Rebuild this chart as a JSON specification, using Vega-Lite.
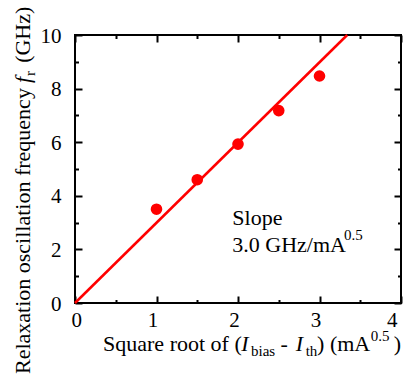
{
  "$schema": "https://vega.github.io/schema/vega-lite/v6.json",
  "width": 326,
  "height": 268,
  "autosize": {"type": "none"},
  "padding": {"left": 75, "top": 35, "right": 3, "bottom": 71},
  "background": "white",
  "config": {
    "view": {"stroke": "black", "strokeWidth": 2},
    "font": "Liberation Serif",
    "axis": {"domain": false, "grid": false, "tickColor": "black", "tickWidth": 2, "labelFont": "Liberation Serif", "labelFontSize": 21, "labelColor": "black", "title": null},
    "text": {"font": "Liberation Serif", "fontSize": 22, "color": "black", "align": "left", "baseline": "alphabetic"}
  },
  "data": {"values": [{}]},
  "resolve": {"axis": {"x": "independent", "y": "independent"}},
  "layer": [
    {
      "data": {"values": [{"x": 0, "y": 0}, {"x": 3.34, "y": 10}]},
      "mark": {"type": "line", "color": "#ff0000", "strokeWidth": 2.5},
      "encoding": {
        "x": {"field": "x", "type": "quantitative", "scale": {"domain": [0, 4], "nice": false},
              "axis": {"orient": "bottom", "values": [0, 1, 2, 3, 4], "tickSize": -7, "labelPadding": 13, "labelOffset": -4, "labelFont": "Liberation Serif", "title": null}},
        "y": {"field": "y", "type": "quantitative", "scale": {"domain": [0, 10], "nice": false},
              "axis": {"orient": "left", "values": [0, 2, 4, 6, 8, 10], "tickSize": -7, "labelPadding": 21, "labelOffset": 1, "labelFont": "Liberation Serif", "title": null}}
      }
    },
    {
      "data": {"values": [
        {"x": 1.0, "y": 3.5},
        {"x": 1.5, "y": 4.6},
        {"x": 2.0, "y": 5.93},
        {"x": 2.5, "y": 7.18},
        {"x": 3.0, "y": 8.47}
      ]},
      "mark": {"type": "point", "shape": "circle", "filled": true, "color": "#ff0000", "opacity": 1, "size": 135},
      "encoding": {
        "x": {"field": "x", "type": "quantitative", "scale": {"domain": [0, 4], "nice": false},
              "axis": {"orient": "bottom", "values": [0.5, 1.5, 2.5, 3.5], "tickSize": -3.5, "labels": false, "title": null}},
        "y": {"field": "y", "type": "quantitative", "scale": {"domain": [0, 10], "nice": false},
              "axis": {"orient": "left", "values": [1, 3, 5, 7, 9], "tickSize": -3.5, "labels": false, "title": null}}
      }
    },
    {
      "mark": {"type": "text", "text": "Slope", "font": "Liberation Serif"},
      "encoding": {
        "x": {"datum": 1.93, "type": "quantitative", "scale": {"domain": [0, 4], "nice": false},
              "axis": {"orient": "top", "values": [0, 1, 2, 3, 4], "tickSize": -7, "labels": false, "title": null}},
        "y": {"datum": 2.91, "type": "quantitative", "scale": {"domain": [0, 10], "nice": false},
              "axis": {"orient": "right", "values": [0, 2, 4, 6, 8, 10], "tickSize": -7, "labels": false, "title": null}}
      }
    },
    {
      "mark": {"type": "text", "text": "3.0 GHz/mA", "font": "Liberation Serif"},
      "encoding": {
        "x": {"datum": 1.93, "type": "quantitative", "scale": {"domain": [0, 4], "nice": false},
              "axis": {"orient": "top", "values": [0.5, 1.5, 2.5, 3.5], "tickSize": -3.5, "labels": false, "title": null}},
        "y": {"datum": 1.9, "type": "quantitative", "scale": {"domain": [0, 10], "nice": false},
              "axis": {"orient": "right", "values": [1, 3, 5, 7, 9], "tickSize": -3.5, "labels": false, "title": null}}
      }
    },
    {
      "mark": {"type": "text", "text": "0.5", "fontSize": 15, "font": "Liberation Serif"},
      "encoding": {
        "x": {"datum": 3.3, "type": "quantitative", "scale": {"domain": [0, 4], "nice": false}, "axis": null},
        "y": {"datum": 2.35, "type": "quantitative", "scale": {"domain": [0, 10], "nice": false}, "axis": null}
      }
    },
    {
      "mark": {"type": "text", "text": "Square root of (", "font": "Liberation Serif"},
      "encoding": {
        "x": {"datum": 0.344, "type": "quantitative", "scale": {"domain": [0, 4], "nice": false}, "axis": null},
        "y": {"datum": -1.79, "type": "quantitative", "scale": {"domain": [0, 10], "nice": false}, "axis": null}
      }
    },
    {
      "mark": {"type": "text", "text": "I", "fontStyle": "italic", "font": "Liberation Serif"},
      "encoding": {
        "x": {"datum": 2.04, "type": "quantitative", "scale": {"domain": [0, 4], "nice": false}, "axis": null},
        "y": {"datum": -1.79, "type": "quantitative", "scale": {"domain": [0, 10], "nice": false}, "axis": null}
      }
    },
    {
      "mark": {"type": "text", "text": "bias", "fontSize": 15, "dy": 5, "font": "Liberation Serif"},
      "encoding": {
        "x": {"datum": 2.16, "type": "quantitative", "scale": {"domain": [0, 4], "nice": false}, "axis": null},
        "y": {"datum": -1.79, "type": "quantitative", "scale": {"domain": [0, 10], "nice": false}, "axis": null}
      }
    },
    {
      "mark": {"type": "text", "text": "-", "font": "Liberation Serif"},
      "encoding": {
        "x": {"datum": 2.52, "type": "quantitative", "scale": {"domain": [0, 4], "nice": false}, "axis": null},
        "y": {"datum": -1.79, "type": "quantitative", "scale": {"domain": [0, 10], "nice": false}, "axis": null}
      }
    },
    {
      "mark": {"type": "text", "text": "I", "fontStyle": "italic", "font": "Liberation Serif"},
      "encoding": {
        "x": {"datum": 2.71, "type": "quantitative", "scale": {"domain": [0, 4], "nice": false}, "axis": null},
        "y": {"datum": -1.79, "type": "quantitative", "scale": {"domain": [0, 10], "nice": false}, "axis": null}
      }
    },
    {
      "mark": {"type": "text", "text": "th", "fontSize": 15, "dy": 5, "font": "Liberation Serif"},
      "encoding": {
        "x": {"datum": 2.83, "type": "quantitative", "scale": {"domain": [0, 4], "nice": false}, "axis": null},
        "y": {"datum": -1.79, "type": "quantitative", "scale": {"domain": [0, 10], "nice": false}, "axis": null}
      }
    },
    {
      "mark": {"type": "text", "text": ") (mA", "font": "Liberation Serif"},
      "encoding": {
        "x": {"datum": 2.97, "type": "quantitative", "scale": {"domain": [0, 4], "nice": false}, "axis": null},
        "y": {"datum": -1.79, "type": "quantitative", "scale": {"domain": [0, 10], "nice": false}, "axis": null}
      }
    },
    {
      "mark": {"type": "text", "text": "0.5", "fontSize": 15, "dy": -10, "font": "Liberation Serif"},
      "encoding": {
        "x": {"datum": 3.63, "type": "quantitative", "scale": {"domain": [0, 4], "nice": false}, "axis": null},
        "y": {"datum": -1.79, "type": "quantitative", "scale": {"domain": [0, 10], "nice": false}, "axis": null}
      }
    },
    {
      "mark": {"type": "text", "text": ")", "font": "Liberation Serif"},
      "encoding": {
        "x": {"datum": 3.91, "type": "quantitative", "scale": {"domain": [0, 4], "nice": false}, "axis": null},
        "y": {"datum": -1.79, "type": "quantitative", "scale": {"domain": [0, 10], "nice": false}, "axis": null}
      }
    },
    {
      "mark": {"type": "text", "text": "Relaxation oscillation frequency", "angle": 270, "font": "Liberation Serif"},
      "encoding": {
        "x": {"datum": -0.55, "type": "quantitative", "scale": {"domain": [0, 4], "nice": false}, "axis": null},
        "y": {"datum": -2.65, "type": "quantitative", "scale": {"domain": [0, 10], "nice": false}, "axis": null}
      }
    },
    {
      "mark": {"type": "text", "text": "f", "angle": 270, "fontStyle": "italic", "font": "Liberation Serif"},
      "encoding": {
        "x": {"datum": -0.55, "type": "quantitative", "scale": {"domain": [0, 4], "nice": false}, "axis": null},
        "y": {"datum": 8.21, "type": "quantitative", "scale": {"domain": [0, 10], "nice": false}, "axis": null}
      }
    },
    {
      "mark": {"type": "text", "text": "r", "angle": 270, "fontSize": 15, "dy": 5, "font": "Liberation Serif"},
      "encoding": {
        "x": {"datum": -0.55, "type": "quantitative", "scale": {"domain": [0, 4], "nice": false}, "axis": null},
        "y": {"datum": 8.47, "type": "quantitative", "scale": {"domain": [0, 10], "nice": false}, "axis": null}
      }
    },
    {
      "mark": {"type": "text", "text": "(GHz)", "angle": 270, "font": "Liberation Serif"},
      "encoding": {
        "x": {"datum": -0.55, "type": "quantitative", "scale": {"domain": [0, 4], "nice": false}, "axis": null},
        "y": {"datum": 8.96, "type": "quantitative", "scale": {"domain": [0, 10], "nice": false}, "axis": null}
      }
    }
  ]
}
